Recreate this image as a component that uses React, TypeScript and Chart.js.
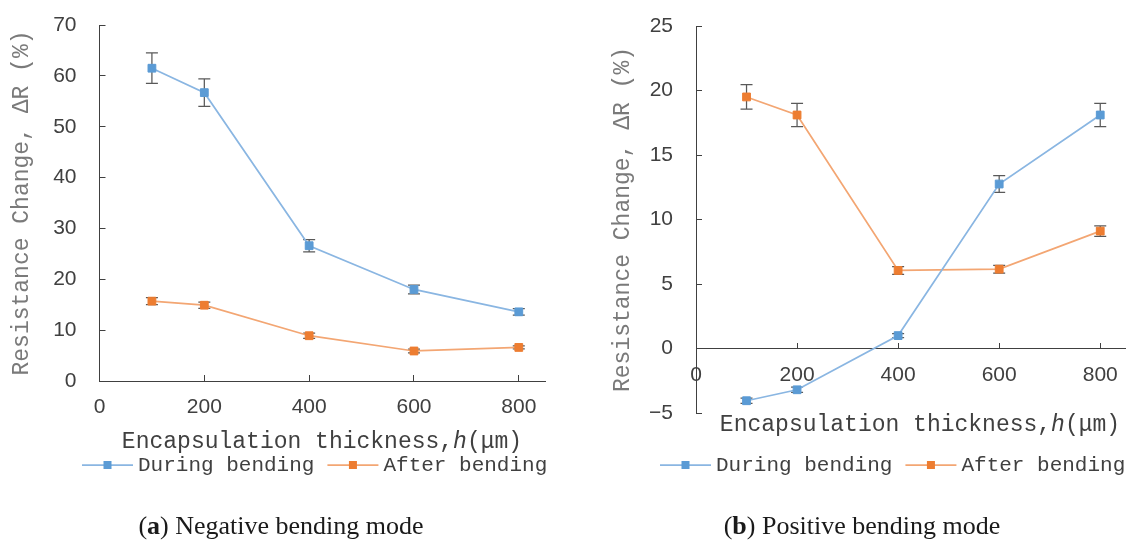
import React, { useEffect, useRef } from 'react';
import { Chart, registerables } from 'chart.js';

Chart.register(...registerables);

// ---------- data ----------
const thickness = [100, 200, 400, 600, 800];
const seriesNames = ['During bending', 'After bending'];

// (a) Negative bending mode
const negDuring = [61.5, 56.7, 26.6, 18.0, 13.6];
const negDuringErr = [3.0, 2.7, 1.2, 0.85, 0.65];
const negAfter = [15.7, 14.9, 8.9, 5.9, 6.6];
const negAfterErr = [0.7, 0.6, 0.5, 0.35, 0.3];

// (b) Positive bending mode
const posDuring = [-4.05, -3.2, 1.0, 12.75, 18.1];
const posDuringErr = [0.2, 0.2, 0.15, 0.65, 0.9];
const posAfter = [19.5, 18.1, 6.05, 6.15, 9.1];
const posAfterErr = [0.95, 0.9, 0.3, 0.3, 0.4];

const xTickValues = [0, 200, 400, 600, 800];
const negYTickValues = [0, 10, 20, 30, 40, 50, 60, 70];
const posYTickValues = [-5, 0, 5, 10, 15, 20, 25];

const yTitle = 'Resistance Change, ΔR (%)';
const xTitleParts = ['Encapsulation thickness,', 'h', '(μm)'];

// ---------- styles ----------
const BLUE = '#5b9bd5';
const BLUE_LINE = '#8ab6e2';
const ORANGE = '#ed7d31';
const ORANGE_LINE = '#f3a673';
const AXIS = '#404040';
const MONO = '"Liberation Mono", monospace';
const X_SCALE_H = 60;

const errorBarPlugin = {
  id: 'errorBars',
  beforeDatasetsDraw(chart: any) {
    const ctx = chart.ctx;
    const xs = chart.scales.x;
    const ys = chart.scales.y;
    ctx.save();
    ctx.strokeStyle = '#595959';
    ctx.lineWidth = 1.25;
    chart.data.datasets.forEach((ds: any) => {
      ds.data.forEach((p: any, i: number) => {
        const e = ds.errors[i];
        const x = xs.getPixelForValue(p.x);
        const y1 = ys.getPixelForValue(p.y + e);
        const y2 = ys.getPixelForValue(p.y - e);
        ctx.beginPath();
        ctx.moveTo(x, y1);
        ctx.lineTo(x, y2);
        ctx.moveTo(x - 6, y1);
        ctx.lineTo(x + 6, y1);
        ctx.moveTo(x - 6, y2);
        ctx.lineTo(x + 6, y2);
        ctx.stroke();
      });
    });
    ctx.restore();
  },
};

const decorPlugin = {
  id: 'decor',
  afterDraw(chart: any, _args: any, opts: any) {
    const ctx = chart.ctx;
    const ca = chart.chartArea;
    // y title
    ctx.save();
    ctx.font = '23px ' + MONO;
    ctx.fillStyle = '#7a7a7a';
    ctx.translate(opts.yTitleX, (ca.top + ca.bottom) / 2);
    ctx.rotate(-Math.PI / 2);
    ctx.textAlign = 'center';
    ctx.textBaseline = 'middle';
    ctx.fillText(yTitle, 0, 0);
    ctx.restore();

    // x title with italic h
    ctx.save();
    ctx.fillStyle = AXIS;
    ctx.textBaseline = 'alphabetic';
    ctx.textAlign = 'left';
    const fonts = ['23px ' + MONO, 'italic 23px ' + MONO, '23px ' + MONO];
    const widths = xTitleParts.map((t, i) => {
      ctx.font = fonts[i];
      return ctx.measureText(t).width;
    });
    const total = widths.reduce((a, b) => a + b, 0);
    let x = opts.xTitleX - total / 2;
    xTitleParts.forEach((t, i) => {
      ctx.font = fonts[i];
      ctx.fillText(t, x, opts.xTitleY);
      x += widths[i];
    });
    ctx.restore();

    // legend
    ctx.save();
    ctx.font = '21px ' + MONO;
    ctx.textBaseline = 'alphabetic';
    ctx.textAlign = 'left';
    let lx = opts.legendX;
    const ly = opts.legendY;
    chart.data.datasets.forEach((ds: any) => {
      ctx.strokeStyle = ds.borderColor;
      ctx.lineWidth = 1.75;
      ctx.beginPath();
      ctx.moveTo(lx, ly);
      ctx.lineTo(lx + 51, ly);
      ctx.stroke();
      ctx.fillStyle = ds.pointBackgroundColor;
      ctx.fillRect(lx + 25.5 - 4, ly - 4, 8, 8);
      ctx.fillStyle = AXIS;
      ctx.fillText(ds.label, lx + 56, ly + 6);
      lx += 56 + ctx.measureText(ds.label).width + 13;
    });
    ctx.restore();
  },
};

function makeDataset(label: string, values: number[], errors: number[], color: string, lineColor: string) {
  return {
    label,
    data: thickness.map((t, i) => ({ x: t, y: values[i] })),
    errors,
    showLine: true,
    borderColor: lineColor,
    borderWidth: 1.75,
    backgroundColor: color,
    pointStyle: 'rect',
    pointRadius: 5.5,
    pointHoverRadius: 5.5,
    pointBackgroundColor: color,
    pointBorderColor: color,
    pointBorderWidth: 1,
    tension: 0,
  };
}

function makeConfig(p: any) {
  const tickFont = { family: '"Liberation Sans", sans-serif', size: 21 };
  const grid = {
    display: true,
    drawOnChartArea: false,
    drawTicks: true,
    tickLength: -6,
    color: AXIS,
    lineWidth: 1,
  };
  const border = { display: true, color: AXIS, width: 1 };
  return {
    type: 'scatter',
    data: {
      datasets: [
        makeDataset(seriesNames[0], p.during, p.duringErr, BLUE, BLUE_LINE),
        makeDataset(seriesNames[1], p.after, p.afterErr, ORANGE, ORANGE_LINE),
      ],
    },
    options: {
      responsive: false,
      animation: false,
      events: [],
      layout: { padding: p.padding },
      plugins: {
        legend: { display: false },
        tooltip: { enabled: false },
        title: { display: false },
        decor: p.decor,
      },
      scales: {
        x: {
          type: 'linear',
          position: p.xPosition,
          min: 0,
          max: 850,
          grid,
          border,
          afterBuildTicks: (s: any) => {
            s.ticks = xTickValues.map((v) => ({ value: v }));
          },
          afterFit: (s: any) => {
            s.height = X_SCALE_H;
            s.paddingLeft = 0;
            s.paddingRight = 0;
          },
          ticks: {
            font: tickFont,
            color: AXIS,
            padding: 20,
            maxRotation: 0,
            autoSkip: false,
            callback: (v: any) => String(v),
          },
        },
        y: {
          type: 'linear',
          position: 'left',
          min: p.yMin,
          max: p.yMax,
          grid,
          border,
          afterBuildTicks: (s: any) => {
            s.ticks = p.yTicks.map((v: number) => ({ value: v }));
          },
          afterFit: (s: any) => {
            s.width = p.yWidth;
            s.paddingTop = 0;
            s.paddingBottom = 0;
          },
          ticks: {
            font: tickFont,
            color: AXIS,
            padding: 29,
            autoSkip: false,
            callback: (v: any) => String(v).replace('-', '\u2212'),
          },
        },
      },
    },
    plugins: [errorBarPlugin, decorPlugin],
  };
}

function ChartCanvas({ cfg, left }: { cfg: any; left: number }) {
  const ref = useRef<HTMLCanvasElement | null>(null);
  useEffect(() => {
    if (!ref.current) return;
    const chart = new Chart(ref.current, cfg);
    return () => chart.destroy();
  }, [cfg]);
  return (
    <canvas
      ref={ref}
      width={566}
      height={542}
      style={{ position: 'absolute', left, top: 0, width: 566, height: 542 }}
    />
  );
}

const negCfg = makeConfig({
  during: negDuring,
  duringErr: negDuringErr,
  after: negAfter,
  afterErr: negAfterErr,
  yMin: 0,
  yMax: 70,
  yTicks: negYTickValues,
  yWidth: 99.5,
  xPosition: 'bottom',
  padding: { left: 0, top: 25, right: 21, bottom: 542 - 381 - X_SCALE_H },
  decor: { yTitleX: 22, xTitleX: 322, xTitleY: 448, legendX: 82, legendY: 465 },
});

const posCfg = makeConfig({
  during: posDuring,
  duringErr: posDuringErr,
  after: posAfter,
  afterErr: posAfterErr,
  yMin: -5,
  yMax: 25,
  yTicks: posYTickValues,
  yWidth: 130,
  xPosition: { y: 0 },
  padding: { left: 0, top: 26, right: 2, bottom: 542 - 413 },
  decor: { yTitleX: 57, xTitleX: 354, xTitleY: 431, legendX: 94, legendY: 465 },
});

const captionStyle: React.CSSProperties = {
  position: 'absolute',
  top: 513,
  fontFamily: '"Liberation Serif", serif',
  fontSize: 26,
  lineHeight: '26px',
  color: '#1a1a1a',
  whiteSpace: 'nowrap',
  transform: 'translateX(-50%)',
};

export default function App() {
  return (
    <div
      style={{
        position: 'fixed',
        left: 0,
        top: 0,
        width: 1132,
        height: 542,
        background: '#ffffff',
        overflow: 'hidden',
      }}
    >
      <ChartCanvas cfg={negCfg} left={0} />
      <ChartCanvas cfg={posCfg} left={566} />
      <div style={{ ...captionStyle, left: 281 }}>
        (<b>a</b>) Negative bending mode
      </div>
      <div style={{ ...captionStyle, left: 862 }}>
        (<b>b</b>) Positive bending mode
      </div>
    </div>
  );
}
